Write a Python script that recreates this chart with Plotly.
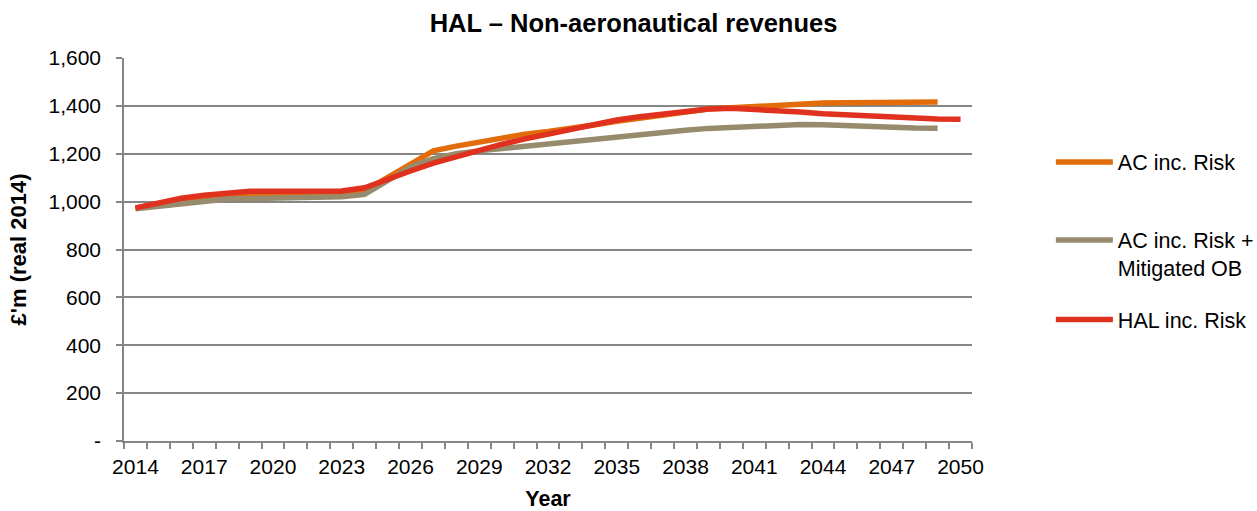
import plotly.graph_objects as go

years = ["2014", "2015", "2016", "2017", "2018", "2019", "2020", "2021", "2022", "2023",
         "2024", "2025", "2026", "2027", "2028", "2029", "2030", "2031", "2032", "2033",
         "2034", "2035", "2036", "2037", "2038", "2039", "2040", "2041", "2042", "2043",
         "2044", "2045", "2046", "2047", "2048", "2049", "2050"]

ac_risk = [972, 990, 1002, 1012, 1018, 1022, 1024, 1026, 1030, 1034,
           1045, 1100, 1160, 1212, 1232, 1250, 1266, 1282, 1293, 1305,
           1320, 1336, 1350, 1362, 1375, 1387, 1392, 1398, 1405, 1411,
           1412, 1413, 1414, 1414, 1415, 1416]

ac_risk_ob = [970, 980, 994, 1005, 1011, 1013, 1014, 1015, 1017, 1020,
              1030, 1090, 1145, 1180, 1200, 1212, 1222, 1232, 1240, 1250,
              1262, 1273, 1281, 1290, 1298, 1306, 1311, 1314, 1318, 1322,
              1321, 1317, 1314, 1311, 1308, 1307]

hal_risk = [974, 995, 1014, 1027, 1035, 1043, 1043, 1043, 1043, 1044,
            1058, 1095, 1128, 1161, 1189, 1217, 1240, 1262, 1282, 1300,
            1320, 1341, 1355, 1366, 1377, 1387, 1390, 1386, 1381, 1374,
            1367, 1362, 1357, 1351, 1349, 1345, 1344]

series_names = ["AC inc. Risk", "AC inc. Risk +<br>Mitigated OB", "HAL inc. Risk"]
series_colors = ["#E36C0A", "#968C6D", "#E0301E"]

y_tickvals = [0, 200, 400, 600, 800, 1000, 1200, 1400, 1600]
y_ticktext = ["-", "200", "400", "600", "800", "1,000", "1,200", "1,400", "1,600"]

x_ticktext = [y if (int(y) - 2014) % 3 == 0 else "" for y in years]

FONT = "Liberation Sans, Arial, sans-serif"

fig = go.Figure()
data = [ac_risk, ac_risk_ob, hal_risk]
legends = ["legend", "legend2", "legend3"]
for vals, name, col, lg in zip(data, series_names, series_colors, legends):
    fig.add_trace(go.Scatter(
        x=years[:len(vals)], y=vals, mode="lines", name=name,
        line=dict(color=col, width=5.5),
        legend=lg, showlegend=True,
    ))

legend_common = dict(
    font=dict(family=FONT, size=21.5, color="#000000"),
    bgcolor="rgba(0,0,0,0)", borderwidth=0,
    xref="paper", x=1.093, xanchor="left",
    valign="top", itemwidth=57,
)

fig.update_layout(
    width=1257, height=511,
    margin=dict(l=124, r=285, t=58, b=70, autoexpand=False),
    showlegend=True,
    paper_bgcolor="white", plot_bgcolor="white",
    font=dict(family=FONT, size=21, color="#000000"),
    title=dict(
        text="<b>HAL – Non-aeronautical revenues</b>",
        font=dict(family=FONT, size=25.5, color="#000000"),
        xref="container", x=0.504, xanchor="center",
        yref="container", y=0.954, yanchor="middle",
    ),
    legend=dict(**legend_common, y=0.7285, yanchor="middle"),
    legend2=dict(**legend_common, y=0.578, yanchor="top"),
    legend3=dict(**legend_common, y=0.317, yanchor="middle"),
    xaxis=dict(
        type="category",
        categoryorder="array", categoryarray=years,
        range=[-0.5, len(years) - 0.5],
        tickmode="array", tickvals=years, ticktext=x_ticktext,
        tickson="boundaries",
        ticks="outside", ticklen=6, tickwidth=1.5, tickcolor="#868686",
        showline=True, linecolor="#868686", linewidth=1.5,
        showgrid=False, zeroline=False,
        tickangle=0,
        tickfont=dict(family=FONT, size=21, color="#000000"),
        ticklabelstandoff=6,
        title=dict(text="<b>Year</b>", font=dict(family=FONT, size=21.5, color="#000000"), standoff=15),
        automargin=False,
    ),
    yaxis=dict(
        range=[0, 1600],
        tickmode="array", tickvals=y_tickvals, ticktext=y_ticktext,
        ticks="outside", ticklen=6, tickwidth=1.5, tickcolor="#868686",
        showline=True, linecolor="#868686", linewidth=1.5,
        showgrid=True, gridcolor="#868686", gridwidth=1.5,
        zeroline=False,
        tickfont=dict(family=FONT, size=21, color="#000000"),
        ticklabelstandoff=11,
        title=dict(text="<b>£'m (real 2014)</b>", font=dict(family=FONT, size=22, color="#000000"), standoff=16),
        automargin=False,
    ),
)

fig.write_html(
    "out.html",
    config={"displayModeBar": False},
    post_script="document.body.style.margin='0';document.body.style.overflow='hidden';",
)
